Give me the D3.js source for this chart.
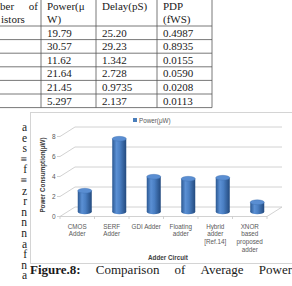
<!DOCTYPE html>
<html>
<head>
<meta charset="utf-8">
<script src="https://cdn.jsdelivr.net/npm/d3@7"></script>
<style>
body { margin: 0; background: #fff; }
svg { display: block; }
</style>
</head>
<body>
<div id="page"></div>
<script>
// table values (cropped page)
var tableHead = [["ber", "of", "istors"], ["Power(\u03bc", "W)"], ["Delay(pS)"], ["PDP", "(fWS)"]];
var powerCol = ["19.79", "30.57", "11.62", "21.64", "21.45", "5.297"];
var delayCol = ["25.20", "29.23", "1.342", "2.728", "0.9735", "2.137"];
var pdpCol = ["0.4987", "0.8935", "0.0155", "0.0590", "0.0208", "0.0113"];

// chart values
var categories = ["CMOS Adder", "SERF Adder", "GDI Adder", "Floating adder", "Hybrid adder [Ref.14]", "XNOR based proposed adder"];
var catLines = [["CMOS", "Adder"], ["SERF", "Adder"], ["GDI Adder"], ["Floating", "adder"], ["Hybrid", "adder", "[Ref.14]"], ["XNOR", "based", "proposed", "adder"]];
var power = [2.1, 7.3, 3.5, 3.3, 3.4, 0.95];
var yTicks = [0, 2, 4, 6, 8];

// bits of the page around the chart
var sideText = ["a", "e", "s", "\u2261", "f", "\u2261", "z", "r", "n", "n", "n", "a", "f", "n", "a"];
var captionWords = ["Figure.8:", "Comparison", "of", "Average", "Power"];

var W = 292, H = 286;
var serif = "'Liberation Serif', 'Times New Roman', serif";
var sans = "'Liberation Sans', Arial, sans-serif";

var svg = d3.select("#page").append("svg")
    .attr("width", W)
    .attr("height", H);

svg.append("rect").attr("width", W).attr("height", H).attr("fill", "#fff");

// ---------- table ----------
var colX = [41, 96, 157, 212];
var headBottom = 26, rowH = 13.6;
var rowLines = d3.range(powerCol.length + 1).map(function (i) { return headBottom + i * rowH; });

var table = svg.append("g").attr("stroke", "#555").attr("stroke-width", 0.8);
table.selectAll(".hl").data(rowLines).enter().append("line")
    .attr("x1", 0).attr("x2", colX[3])
    .attr("y1", function (d) { return d; }).attr("y2", function (d) { return d; });
table.selectAll(".vl").data(colX).enter().append("line")
    .attr("x1", function (d) { return d; }).attr("x2", function (d) { return d; })
    .attr("y1", 0).attr("y2", rowLines[rowLines.length - 1]);

var tt = svg.append("g").attr("font-family", serif).attr("font-size", 11).attr("fill", "#1a1a1a");
// header
tt.append("text").attr("x", 0).attr("y", 10).text(tableHead[0][0]);
tt.append("text").attr("x", 38).attr("y", 10).attr("text-anchor", "end").text(tableHead[0][1]);
tt.append("text").attr("x", 1).attr("y", 23).text(tableHead[0][2]);
[1, 2, 3].forEach(function (c) {
    tableHead[c].forEach(function (s, k) {
        tt.append("text").attr("x", colX[c - 1] + 6).attr("y", 10 + k * 13).text(s);
    });
});
[powerCol, delayCol, pdpCol].forEach(function (col, c) {
    tt.selectAll(".c" + c).data(col).enter().append("text")
        .attr("x", colX[c] + 6)
        .attr("y", function (d, i) { return headBottom + i * rowH + 10.5; })
        .text(function (d) { return d; });
});

// ---------- left column text fragments ----------
svg.append("g").attr("font-family", serif).attr("font-size", 11.5).attr("fill", "#1a1a1a")
    .selectAll("text").data(sideText).enter().append("text")
    .attr("x", 27).attr("text-anchor", "end")
    .attr("y", function (d, i) { return 131 + i * 10.6; })
    .text(function (d) { return d; });

// ---------- chart box ----------
svg.append("rect")
    .attr("x", 30.5).attr("y", 112.5).attr("width", 280).attr("height", 151)
    .attr("fill", "#fff").attr("stroke", "#d4d4d4").attr("stroke-width", 1);

var x = d3.scaleBand().domain(categories).range([60, 267]);
var y = d3.scaleLinear().domain([0, 8]).range([216.5, 136.5]);
var dx = 15, dy = -9.5;
var x0 = x.range()[0], x1 = x.range()[1];

// back wall gridlines with the side-wall diagonal
var grid = svg.append("g").attr("fill", "none").attr("stroke", "#c6c6c6").attr("stroke-width", 0.8);
grid.selectAll("path").data(yTicks).enter().append("path")
    .attr("d", function (t) {
        var yy = y(t);
        return "M" + (x0 - 3) + "," + yy + "L" + x0 + "," + yy +
            "L" + (x0 + dx) + "," + (yy + dy) + "L" + (x1 + dx) + "," + (yy + dy);
    });
// floor front edge and right side
grid.append("path")
    .attr("d", "M" + x0 + "," + y(0) + "L" + x1 + "," + y(0) + "L" + (x1 + dx) + "," + (y(0) + dy));
// category ticks on the front edge
grid.selectAll(".tk").data(d3.range(categories.length + 1)).enter().append("line")
    .attr("x1", function (i) { return x0 + i * x.step(); })
    .attr("x2", function (i) { return x0 + i * x.step(); })
    .attr("y1", y(0)).attr("y2", y(0) + 2.5);

// y tick labels
svg.append("g").attr("font-family", sans).attr("font-size", 6.5).attr("fill", "#595959")
    .selectAll("text").data(yTicks).enter().append("text")
    .attr("x", 55.5).attr("text-anchor", "end")
    .attr("y", function (t) { return y(t) + 2.3; })
    .text(function (t) { return t; });

// y axis title
svg.append("text")
    .attr("transform", "translate(45," + 175 + ") rotate(-90)")
    .attr("text-anchor", "middle")
    .attr("font-family", sans).attr("font-size", 6.3).attr("font-weight", "bold").attr("fill", "#404040")
    .text("Power Consumption(\u03bcW)");

// legend
svg.append("rect").attr("x", 133).attr("y", 118).attr("width", 4).attr("height", 4).attr("fill", "#4a7ebb");
svg.append("text").attr("x", 139).attr("y", 122.5)
    .attr("font-family", sans).attr("font-size", 6.3).attr("fill", "#595959")
    .text("Power(\u03bcW)");

// cylinder bars
var defs = svg.append("defs");
var grad = defs.append("linearGradient").attr("id", "cyl").attr("x1", 0).attr("x2", 1).attr("y1", 0).attr("y2", 0);
grad.append("stop").attr("offset", "0%").attr("stop-color", "#2b5892");
grad.append("stop").attr("offset", "30%").attr("stop-color", "#5b90d4");
grad.append("stop").attr("offset", "55%").attr("stop-color", "#4a7fc3");
grad.append("stop").attr("offset", "100%").attr("stop-color", "#234a7e");

var rx = 7, ry = 2.4;
var bars = svg.append("g").selectAll("g").data(power).enter().append("g")
    .attr("transform", function (d, i) {
        return "translate(" + (x(categories[i]) + x.bandwidth() / 2 + dx / 2) + ",0)";
    });
bars.append("ellipse")
    .attr("cx", 0).attr("cy", y(0) + dy / 2).attr("rx", rx).attr("ry", ry)
    .attr("fill", "url(#cyl)");
bars.append("rect")
    .attr("x", -rx).attr("width", rx * 2)
    .attr("y", function (d) { return y(d) + dy / 2; })
    .attr("height", function (d) { return y(0) - y(d); })
    .attr("fill", "url(#cyl)");
bars.append("ellipse")
    .attr("cx", 0).attr("cy", function (d) { return y(d) + dy / 2; })
    .attr("rx", rx).attr("ry", ry)
    .attr("fill", "#5a8ed2").attr("stroke", "#3f70ae").attr("stroke-width", 0.4);

// category labels
var cl = svg.append("g").attr("font-family", sans).attr("font-size", 6.3).attr("fill", "#595959")
    .attr("text-anchor", "middle");
catLines.forEach(function (lines, i) {
    lines.forEach(function (s, k) {
        cl.append("text")
            .attr("x", x(categories[i]) + x.bandwidth() / 2)
            .attr("y", 228.5 + k * 7.8)
            .text(s);
    });
});

// x axis title
svg.append("text").attr("x", 168).attr("y", 259.5).attr("text-anchor", "middle")
    .attr("font-family", sans).attr("font-size", 6.3).attr("font-weight", "bold").attr("fill", "#404040")
    .text("Adder Circuit");

// caption, justified across the column
var cap = svg.append("g").attr("font-family", serif).attr("font-size", 13).attr("fill", "#1a1a1a");
var capNodes = captionWords.map(function (w, i) {
    return cap.append("text").attr("y", 274).attr("font-weight", i == 0 ? "bold" : "normal").text(w);
});
var widths = capNodes.map(function (n) { return n.node().getComputedTextLength(); });
var capLeft = 30, capRight = 292;
var gap = (capRight - capLeft - d3.sum(widths)) / (captionWords.length - 1);
var cx = capLeft;
capNodes.forEach(function (n, i) {
    n.attr("x", cx);
    cx += widths[i] + gap;
});
</script>
</body>
</html>
